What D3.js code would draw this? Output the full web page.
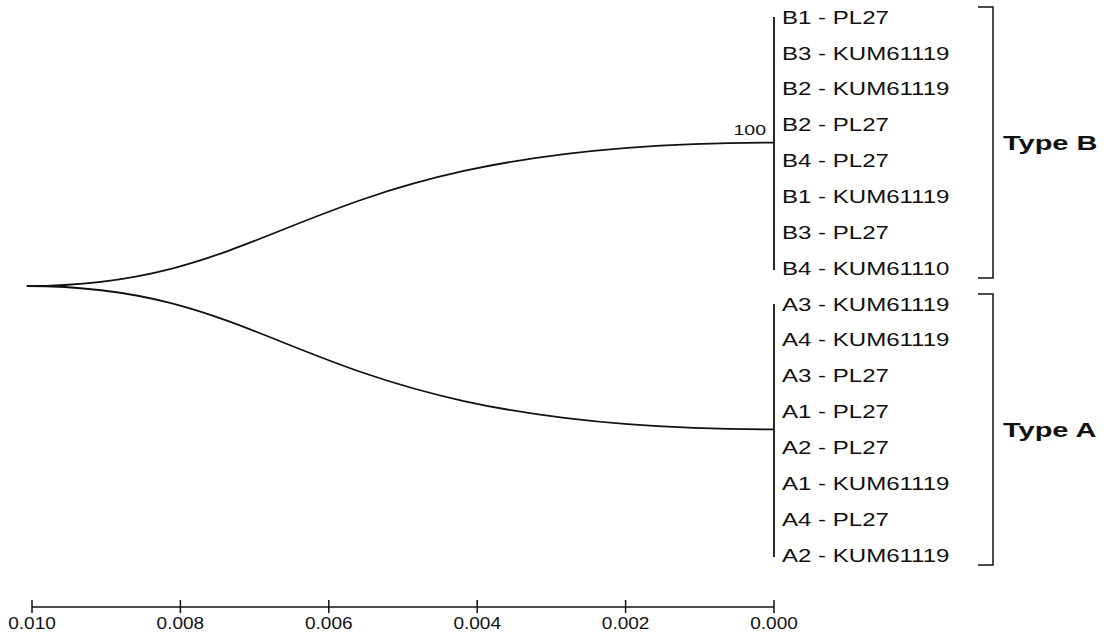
<!DOCTYPE html>
<html>
<head>
<meta charset="utf-8">
<script src="https://cdn.jsdelivr.net/npm/d3@7"></script>
<style>
  body { margin: 0; background: #fff; }
  svg { display: block; }
  text { font-family: "Liberation Sans", Arial, sans-serif; fill: #111; }
</style>
</head>
<body>
<div id="chart"></div>
<script>
// clade members, top to bottom
const typeBLeaves = ["B1 - PL27", "B3 - KUM61119", "B2 - KUM61119", "B2 - PL27",
  "B4 - PL27", "B1 - KUM61119", "B3 - PL27", "B4 - KUM61110"];
const typeALeaves = ["A3 - KUM61119", "A4 - KUM61119", "A3 - PL27", "A1 - PL27",
  "A2 - PL27", "A1 - KUM61119", "A4 - PL27", "A2 - KUM61119"];
const cladeNames = ["Type B", "Type A"];
const cladeSupport = ["100", ""];
// node heights (distance from tips)
const rootHeight = 0.01007;
const cladeHeight = 0;
const axisTicks = [0.010, 0.008, 0.006, 0.004, 0.002, 0.000];

function draw() {
  const w = 1109, h = 634;
  const stretch = 1.3; // glyphs in the source are widened

  const svg = d3.select("#chart").append("svg")
    .attr("width", w).attr("height", h);

  const x = d3.scaleLinear().domain([0.010, 0]).range([32, 774]);
  const y = d3.scaleLinear().domain([0, 15]).range([17, 555]);

  const clades = [typeBLeaves, typeALeaves].map((leaves, ci) => {
    const idx = leaves.map((d, i) => ci * 8 + i);
    return {
      name: cladeNames[ci],
      support: cladeSupport[ci],
      leaves: leaves.map((d, i) => ({ label: d, i: idx[i] })),
      y0: y(idx[0]),
      y1: y(idx[idx.length - 1]),
      ym: (y(idx[0]) + y(idx[idx.length - 1])) / 2
    };
  });
  const rootY = d3.mean(clades, c => c.ym);

  const tree = svg.append("g")
    .attr("fill", "none").attr("stroke", "#111").attr("stroke-width", 1.8);

  // curved branches root -> clade
  clades.forEach(c => {
    const x0 = x(rootHeight), x1 = x(cladeHeight);
    const cx = x0 + 0.36 * (x1 - x0);
    const p = d3.path();
    p.moveTo(x0, rootY);
    p.bezierCurveTo(cx, rootY, cx, c.ym, x1, c.ym);
    tree.append("path").attr("d", p.toString());
    // vertical line spanning leaves
    tree.append("line")
      .attr("x1", x1).attr("x2", x1)
      .attr("y1", c.y0).attr("y2", c.y1 + 2);
  });

  const stxt = (g, tx, ty, s) => g.append("g")
    .attr("transform", `translate(${tx},${ty}) scale(${s || stretch},1)`)
    .append("text");

  // leaf labels
  clades.forEach(c => {
    c.leaves.forEach(l => {
      stxt(svg, x(0) + 8, y(l.i))
        .attr("dy", "0.36em")
        .style("font-size", "18.5px")
        .text(l.label);
    });
    if (c.support) {
      stxt(svg, x(cladeHeight) - 8, c.ym - 8)
        .attr("text-anchor", "end")
        .style("font-size", "15px")
        .text(c.support);
    }
    // bracket
    const bx = 993;
    svg.append("path")
      .attr("fill", "none").attr("stroke", "#111").attr("stroke-width", 1.5)
      .attr("d", `M${bx - 15},${c.y0 - 10}H${bx}V${c.y1 + 10}H${bx - 15}`);
    stxt(svg, bx + 10, c.ym, 1.38)
      .attr("dy", "0.36em")
      .style("font-size", "21px")
      .style("font-weight", "bold")
      .text(c.name);
  });

  // scale axis
  const axisY = 607;
  const axis = svg.append("g").attr("stroke", "#111");
  axis.append("line")
    .attr("x1", x(0.010)).attr("x2", x(0))
    .attr("y1", axisY).attr("y2", axisY)
    .attr("stroke-width", 1.5);
  axis.selectAll("line.tick")
    .data(axisTicks)
    .join("line")
    .attr("class", "tick")
    .attr("x1", d => x(d)).attr("x2", d => x(d))
    .attr("y1", axisY - 7).attr("y2", axisY + 6)
    .attr("stroke-width", 1.5);
  axisTicks.forEach(d => {
    stxt(svg, x(d), axisY + 22, 1.12)
      .attr("text-anchor", "middle")
      .style("font-size", "17px")
      .text(d.toFixed(3));
  });
}

draw();
</script>
</body>
</html>
